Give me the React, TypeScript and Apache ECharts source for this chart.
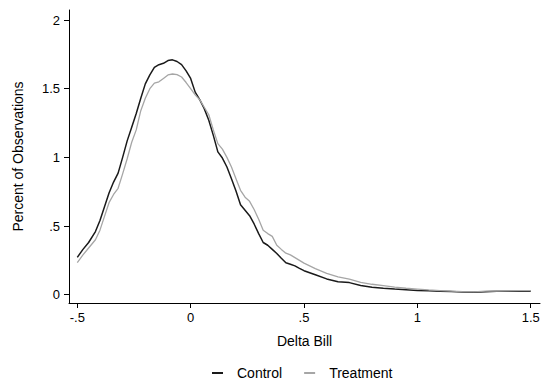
import React, { useEffect, useRef } from "react";
import * as echarts from "echarts";

const xs = [-0.5, -0.475, -0.45, -0.42, -0.4, -0.38, -0.36, -0.34, -0.32, -0.3, -0.28, -0.26, -0.24, -0.22, -0.2, -0.18, -0.16, -0.14, -0.12, -0.1, -0.08, -0.06, -0.04, -0.02, 0, 0.02, 0.04, 0.06, 0.08, 0.1, 0.12, 0.14, 0.16, 0.18, 0.2, 0.22, 0.24, 0.26, 0.28, 0.3, 0.32, 0.34, 0.36, 0.38, 0.4, 0.42, 0.44, 0.46, 0.48, 0.5, 0.55, 0.6, 0.65, 0.7, 0.75, 0.8, 0.85, 0.9, 0.95, 1.0, 1.05, 1.1, 1.15, 1.2, 1.25, 1.3, 1.35, 1.4, 1.45, 1.5];

const control = [0.272, 0.33, 0.38, 0.46, 0.54, 0.64, 0.74, 0.82, 0.885, 1.0, 1.12, 1.22, 1.32, 1.43, 1.535, 1.6, 1.655, 1.675, 1.685, 1.705, 1.71, 1.698, 1.675, 1.63, 1.575, 1.475, 1.42, 1.355, 1.27, 1.16, 1.04, 0.995, 0.93, 0.845, 0.755, 0.655, 0.615, 0.575, 0.515, 0.445, 0.38, 0.36, 0.33, 0.3, 0.265, 0.232, 0.222, 0.21, 0.192, 0.175, 0.145, 0.115, 0.095, 0.088, 0.067, 0.055, 0.047, 0.041, 0.036, 0.031, 0.028, 0.026, 0.023, 0.019, 0.017, 0.021, 0.025, 0.025, 0.025, 0.025];

const treatment = [0.233, 0.29, 0.34, 0.4, 0.47, 0.57, 0.67, 0.73, 0.775, 0.88, 0.99, 1.11, 1.2, 1.34, 1.43, 1.5, 1.54, 1.55, 1.575, 1.6, 1.607, 1.602, 1.585, 1.545, 1.5, 1.455, 1.42, 1.365, 1.31, 1.2, 1.1, 1.06, 1.0, 0.93, 0.845, 0.76, 0.71, 0.68, 0.62, 0.55, 0.47, 0.445, 0.425, 0.36, 0.33, 0.302, 0.29, 0.27, 0.25, 0.23, 0.19, 0.155, 0.13, 0.113, 0.09, 0.076, 0.066, 0.055, 0.047, 0.041, 0.035, 0.03, 0.026, 0.023, 0.021, 0.026, 0.027, 0.028, 0.029, 0.029];

const xTicks = [-0.5, 0, 0.5, 1, 1.5];
const yTicks = [0, 0.5, 1, 1.5, 2];

const fmt = (v: number) => {
  if (v === 0) return "0";
  return String(v).replace(/^(-?)0\./, "$1.");
};

const FONT = "Liberation Sans, Arial, sans-serif";
const ICON = "path://M0,0h11v2h-11zM20,0L20,2L20,0z";

export default function App() {
  const ref = useRef<HTMLDivElement>(null);
  useEffect(() => {
    if (!ref.current) return;
    const chart = echarts.init(ref.current, null, { renderer: "svg" });
    chart.setOption({
      animation: false,
      backgroundColor: "#ffffff",
      grid: { left: 69, right: 4, top: 10, bottom: 80, containLabel: false, outerBoundsMode: "none" },
      legend: {
        bottom: 3,
        left: 212,
        itemWidth: 20,
        itemHeight: 2,
        itemGap: 22,
        padding: 0,
        textStyle: { fontFamily: FONT, fontSize: 14, color: "#000" },
        data: [
          { name: "Control", icon: ICON },
          { name: "Treatment", icon: ICON },
        ],
      },
      xAxis: {
        type: "value",
        min: -0.5366,
        max: 1.541,
        name: "Delta Bill",
        nameLocation: "middle",
        nameGap: 31,
        nameTextStyle: { fontFamily: FONT, fontSize: 14, color: "#000" },
        splitLine: { show: false },
        axisLine: { show: true, onZero: false, lineStyle: { color: "#000", width: 1 } },
        axisTick: { show: true, length: 5, customValues: xTicks, lineStyle: { color: "#000" } },
        axisLabel: {
          customValues: xTicks,
          formatter: fmt,
          fontFamily: FONT,
          fontSize: 13,
          color: "#000",
          margin: 8,
          hideOverlap: false,
        },
      },
      yAxis: {
        type: "value",
        min: -0.0604,
        max: 2.073,
        name: "Percent of Observations",
        nameLocation: "middle",
        nameGap: 44,
        nameTextStyle: { fontFamily: FONT, fontSize: 14, color: "#000" },
        splitLine: { show: false },
        axisLine: { show: true, onZero: false, lineStyle: { color: "#000", width: 1 } },
        axisTick: { show: true, length: 5, customValues: yTicks, lineStyle: { color: "#000" } },
        axisLabel: {
          customValues: yTicks,
          formatter: fmt,
          fontFamily: FONT,
          fontSize: 13,
          color: "#000",
          margin: 9,
        },
      },
      series: [
        {
          name: "Control",
          type: "line",
          symbol: "none",
          smooth: false,
          data: xs.map((x, i) => [x, control[i]]),
          lineStyle: { color: "#1a1a1a", width: 1.5 },
          itemStyle: { color: "#1a1a1a" },
        },
        {
          name: "Treatment",
          type: "line",
          symbol: "none",
          smooth: false,
          data: xs.map((x, i) => [x, treatment[i]]),
          lineStyle: { color: "#a6a6a6", width: 1.3 },
          itemStyle: { color: "#a6a6a6" },
        },
      ],
    });
    return () => chart.dispose();
  }, []);
  return (
    <div
      ref={ref}
      style={{ position: "fixed", left: 0, top: 0, width: 544, height: 383, background: "#fff" }}
    />
  );
}
